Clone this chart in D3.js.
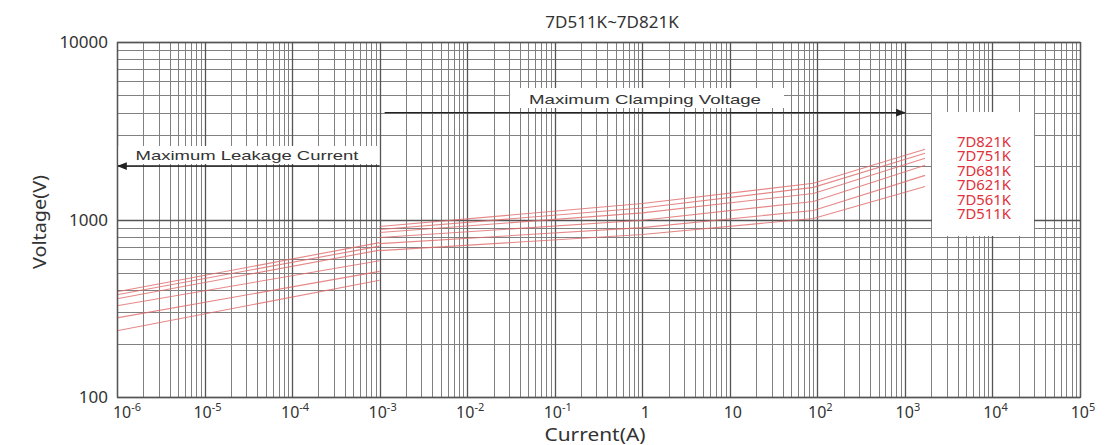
<!DOCTYPE html>
<html>
<head>
<meta charset="utf-8">
<script src="https://cdn.jsdelivr.net/npm/d3@7"></script>
<style>
  html, body { margin: 0; padding: 0; background: #fff; }
  svg { display: block; }
  text { font-family: "Noto Sans", "Open Sans", sans-serif; }
</style>
</head>
<body>
<svg id="chart" width="1110" height="445"></svg>
<script>
// ---- data -------------------------------------------------------------
const seriesNames = ["7D821K", "7D751K", "7D681K", "7D621K", "7D561K", "7D511K"];

// leakage region (A)
const leakageCurrent = [1e-6, 1e-3];
const leakage821 = [392, 741];
const leakage751 = [377, 708];
const leakage681 = [358, 672];
const leakage621 = [327, 585];
const leakage561 = [279, 510];
const leakage511 = [236, 455];

// clamping region (A)
const clampCurrent = [1e-3, 1, 90, 1700];
const clamp821 = [913, 1230, 1600, 2486];
const clamp751 = [878, 1160, 1517, 2360];
const clamp681 = [845, 1090, 1402, 2212];
const clamp621 = [791, 990, 1264, 2019];
const clamp561 = [731, 900, 1124, 1773];
const clamp511 = [668, 823, 1013, 1536];

const currentTicks = [1e-6, 1e-5, 1e-4, 1e-3, 1e-2, 1e-1, 1, 10, 100, 1e3, 1e4, 1e5];
const currentTickBase = ["10", "10", "10", "10", "10", "10", "1", "10", "10", "10", "10", "10"];
const currentTickExp = ["-6", "-5", "-4", "-3", "-2", "-1", "", "", "2", "3", "4", "5"];
const voltageTicks = [100, 1000, 10000];
const voltageTickLabels = ["100", "1000", "10000"];

// annotation ranges
const leakageArrow = { from: 1e-3, to: 1e-6, voltage: 2000 };
const clampArrow = { from: 1e-3, to: 1e3, voltage: 4000 };

// ---- layout -----------------------------------------------------------
const svg = d3.select("#chart");
const plotLeft = 117, plotTop = 42, plotRight = 1080, plotBottom = 397;

const x = d3.scaleLog().domain([1e-6, 1e5]).range([plotLeft, plotRight]);
const y = d3.scaleLog().domain([100, 10000]).range([plotBottom, plotTop]);

// ---- grid -------------------------------------------------------------
const minorX = [], majorX = [];
for (let e = -6; e <= 5; e++) {
  majorX.push(Math.pow(10, e));
  if (e < 5) for (let m = 2; m <= 9; m++) minorX.push(m * Math.pow(10, e));
}
const minorY = [], majorY = [];
for (let e = 2; e <= 4; e++) {
  majorY.push(Math.pow(10, e));
  if (e < 4) for (let m = 2; m <= 9; m++) minorY.push(m * Math.pow(10, e));
}

const grid = svg.append("g").attr("class", "grid");
grid.selectAll("line.vminor").data(minorX).join("line")
  .attr("x1", d => Math.round(x(d)) + 0.5).attr("x2", d => Math.round(x(d)) + 0.5)
  .attr("y1", plotTop).attr("y2", plotBottom)
  .attr("stroke", "#808080").attr("stroke-width", 1);
grid.selectAll("line.hminor").data(minorY).join("line")
  .attr("y1", d => Math.round(y(d)) + 0.5).attr("y2", d => Math.round(y(d)) + 0.5)
  .attr("x1", plotLeft).attr("x2", plotRight)
  .attr("stroke", "#808080").attr("stroke-width", 1);
grid.selectAll("line.vmajor").data(majorX).join("line")
  .attr("x1", d => Math.round(x(d)) + 0.5).attr("x2", d => Math.round(x(d)) + 0.5)
  .attr("y1", plotTop).attr("y2", plotBottom)
  .attr("stroke", "#555").attr("stroke-width", 1.3);
grid.selectAll("line.hmajor").data(majorY).join("line")
  .attr("y1", d => Math.round(y(d)) + 0.5).attr("y2", d => Math.round(y(d)) + 0.5)
  .attr("x1", plotLeft).attr("x2", plotRight)
  .attr("stroke", "#555").attr("stroke-width", 1.3);

// ---- annotation boxes (white patches over the grid) -------------------
svg.append("rect").attr("x", 510).attr("y", 88).attr("width", 274).attr("height", 20).attr("fill", "#fff");
svg.append("rect").attr("x", 118).attr("y", 146).attr("width", 259).attr("height", 18).attr("fill", "#fff");
svg.append("rect").attr("x", 932).attr("y", 112).attr("width", 102).attr("height", 124).attr("fill", "#fff");

// ---- curves -----------------------------------------------------------
const leakageSeries = [leakage821, leakage751, leakage681, leakage621, leakage561, leakage511];
const clampSeries = [clamp821, clamp751, clamp681, clamp621, clamp561, clamp511];
const line = d3.line().x(d => x(d[0])).y(d => y(d[1]));

const curves = svg.append("g").attr("fill", "none")
  .attr("stroke", "#e06a6a").attr("stroke-width", 1.1).attr("stroke-opacity", 0.8);
leakageSeries.forEach(vals => {
  curves.append("path").attr("d", line(leakageCurrent.map((c, i) => [c, vals[i]])));
});
clampSeries.forEach(vals => {
  curves.append("path").attr("d", line(clampCurrent.map((c, i) => [c, vals[i]])));
});

// ---- arrows -----------------------------------------------------------
const defs = svg.append("defs");
defs.append("marker").attr("id", "arrowhead")
  .attr("viewBox", "0 0 10 10").attr("refX", 9).attr("refY", 5)
  .attr("markerWidth", 7).attr("markerHeight", 7).attr("orient", "auto")
  .append("path").attr("d", "M0,1 L10,5 L0,9 Z").attr("fill", "#222");

svg.append("line")
  .attr("x1", x(leakageArrow.from)).attr("x2", x(leakageArrow.to) + 1)
  .attr("y1", y(leakageArrow.voltage)).attr("y2", y(leakageArrow.voltage))
  .attr("stroke", "#222").attr("stroke-width", 1.4).attr("marker-end", "url(#arrowhead)");
svg.append("line")
  .attr("x1", x(clampArrow.from) + 5).attr("x2", x(clampArrow.to))
  .attr("y1", y(clampArrow.voltage)).attr("y2", y(clampArrow.voltage))
  .attr("stroke", "#222").attr("stroke-width", 1.4).attr("marker-end", "url(#arrowhead)");

svg.append("text").attr("x", 645).attr("y", 104).attr("text-anchor", "middle")
  .style("font-family", "'Liberation Sans', Arial, sans-serif")
  .attr("font-size", 13).attr("fill", "#333")
  .attr("textLength", 232).attr("lengthAdjust", "spacingAndGlyphs")
  .text("Maximum Clamping Voltage");
svg.append("text").attr("x", 247).attr("y", 160).attr("text-anchor", "middle")
  .style("font-family", "'Liberation Sans', Arial, sans-serif")
  .attr("font-size", 13).attr("fill", "#333")
  .attr("textLength", 223).attr("lengthAdjust", "spacingAndGlyphs")
  .text("Maximum Leakage Current");

// ---- legend -----------------------------------------------------------
svg.append("g").selectAll("text").data(seriesNames).join("text")
  .attr("x", 957).attr("y", (d, i) => 147 + i * 14.4)
  .attr("font-size", 13.5).attr("fill", "#e0323c")
  .attr("textLength", 54).attr("lengthAdjust", "spacingAndGlyphs")
  .text(d => d);

// ---- frame ------------------------------------------------------------
svg.append("rect").attr("x", plotLeft + 0.5).attr("y", plotTop + 0.5)
  .attr("width", plotRight - plotLeft).attr("height", plotBottom - plotTop)
  .attr("fill", "none").attr("stroke", "#555").attr("stroke-width", 1.3);

// ---- axes labels ------------------------------------------------------
svg.append("g").selectAll("text").data(voltageTicks).join("text")
  .attr("x", 108).attr("y", d => y(d) + 6).attr("text-anchor", "end")
  .attr("font-size", 17).attr("fill", "#333")
  .text((d, i) => voltageTickLabels[i]);

const xl = svg.append("g").selectAll("text").data(currentTicks).join("text")
  .attr("x", (d, i) => x(d) + (i === 0 ? 10 : 3)).attr("y", 418).attr("text-anchor", "middle")
  .attr("font-size", 16).attr("fill", "#333");
xl.append("tspan").text((d, i) => currentTickBase[i]);
xl.append("tspan").attr("font-size", 11).attr("dy", -7)
  .text((d, i) => currentTickExp[i]);

svg.append("text").attr("x", 595).attr("y", 441).attr("text-anchor", "middle")
  .attr("font-size", 18).attr("fill", "#333")
  .attr("textLength", 101).attr("lengthAdjust", "spacingAndGlyphs")
  .text("Current(A)");
svg.append("text").attr("transform", "translate(46,222) rotate(-90)")
  .attr("text-anchor", "middle").attr("font-size", 18).attr("fill", "#333")
  .attr("textLength", 94).attr("lengthAdjust", "spacingAndGlyphs")
  .text("Voltage(V)");

svg.append("text").attr("x", 612).attr("y", 28).attr("text-anchor", "middle")
  .attr("font-size", 17).attr("fill", "#333").text("7D511K~7D821K");
</script>
</body>
</html>
